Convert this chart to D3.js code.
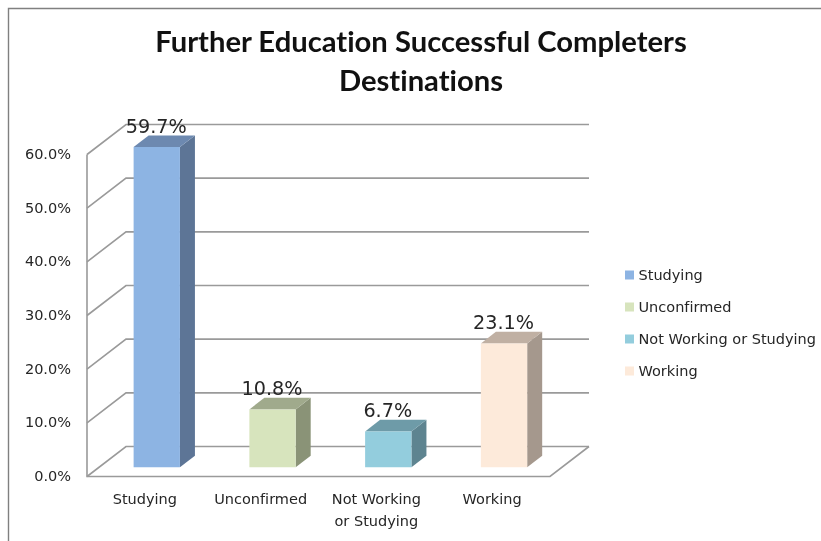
<!DOCTYPE html>
<html>
<head>
<meta charset="utf-8">
<script src="https://cdn.jsdelivr.net/npm/d3@7"></script>
<style>
  html, body { margin: 0; padding: 0; background: #fff; }
  svg { display: block; filter: blur(0.4px); }
  text { fill: #262626; font-variant-ligatures: none; }
</style>
</head>
<body>
<svg width="821" height="541"></svg>
<script>
let titleLines = ['Further Education Successful Completers', 'Destinations']
let categories = ['Studying', 'Unconfirmed', 'Not Working or Studying', 'Working']
let axisLabels = [['Studying'], ['Unconfirmed'], ['Not Working', 'or Studying'], ['Working']]
let values = [59.7, 10.8, 6.7, 23.1]
let yTicks = [0, 10, 20, 30, 40, 50, 60]
let frontColors = ['#8db4e3', '#d7e4bd', '#93cddd', '#fdeada']
let sideColors = ['#5d7596', '#8a9377', '#5e8490', '#a5988d']
let topColors = ['#6d89b0', '#a0aa8c', '#6e9ba8', '#c0b0a3']

let svg = d3.select('svg')

// the floor is sheared: depth 0 is the front edge, depth 1 the back wall
let wallDx = 39
let wallDy = -30
let barNear = 0.305
let barFar = 0.69

let x = d3.scaleBand().domain(categories).range([87, 550]).paddingInner(0.6).paddingOuter(0.3)
let y = d3.scaleLinear().domain([0, 60]).range([476.5, 154.5])

function pt(xv, yv, depth) {
  return [xv + depth * wallDx, yv + depth * wallDy]
}
function poly(points) {
  return d3.line()(points) + 'Z'
}

// frame
svg.append('path')
  .attr('d', 'M8.5,541V8.5H821')
  .attr('fill', 'none')
  .attr('stroke', '#808080')
  .attr('stroke-width', 1.4)

let gridColor = '#9a9a9a'
let left = x.range()[0]
let right = x.range()[1]

// back wall gridlines and side wall diagonals
yTicks.forEach(t => {
  let a = pt(left, y(t), 0)
  let b = pt(left, y(t), 1)
  let c = pt(right, y(t), 1)
  svg.append('path')
    .attr('d', d3.line()([a, b, c]))
    .attr('fill', 'none')
    .attr('stroke', gridColor)
    .attr('stroke-width', 1.6)
})

// floor front and right edge, plus left axis
svg.append('path')
  .attr('d', d3.line()([pt(left, y(60), 0), pt(left, y(0), 0), pt(right, y(0), 0), pt(right, y(0), 1)]))
  .attr('fill', 'none')
  .attr('stroke', gridColor)
  .attr('stroke-width', 1.6)

// bars
categories.forEach((c, i) => {
  let x0 = x(c)
  let x1 = x0 + x.bandwidth()
  let base = y(0)
  let topY = y(values[i])

  svg.append('path')
    .attr('d', poly([pt(x1, base, barNear), pt(x1, base, barFar), pt(x1, topY, barFar), pt(x1, topY, barNear)]))
    .attr('fill', sideColors[i])
  svg.append('path')
    .attr('d', poly([pt(x0, topY, barNear), pt(x1, topY, barNear), pt(x1, topY, barFar), pt(x0, topY, barFar)]))
    .attr('fill', topColors[i])
  svg.append('path')
    .attr('d', poly([pt(x0, base, barNear), pt(x1, base, barNear), pt(x1, topY, barNear), pt(x0, topY, barNear)]))
    .attr('fill', frontColors[i])

  // value label
  svg.append('text')
    .attr('x', pt(x0 + x.bandwidth() / 2, topY, barNear)[0] - 0.5)
    .attr('y', pt(x0, topY, barNear)[1] - 14)
    .attr('text-anchor', 'middle')
    .attr('font-family', 'DejaVu Sans')
    .attr('font-size', 19.2)
    .text(values[i].toFixed(1) + '%')

  // category label
  svg.append('text')
    .selectAll('tspan')
    .data(axisLabels[i])
    .join('tspan')
    .attr('x', x0 + x.bandwidth() / 2)
    .attr('y', (d, j) => 503.5 + j * 22)
    .attr('text-anchor', 'middle')
    .attr('font-family', 'DejaVu Sans')
    .attr('font-size', 14.5)
    .text(d => d)
})

// y tick labels
svg.selectAll('.tick-label')
  .data(yTicks)
  .join('text')
  .attr('class', 'tick-label')
  .attr('x', 71)
  .attr('y', d => y(d) + 4.5)
  .attr('text-anchor', 'end')
  .attr('font-family', 'DejaVu Sans')
  .attr('font-size', 14.5)
  .text(d => d.toFixed(1) + '%')

// title
svg.append('text')
  .selectAll('tspan')
  .data(titleLines)
  .join('tspan')
  .attr('x', 421)
  .attr('y', (d, i) => 51.5 + i * 39)
  .attr('text-anchor', 'middle')
  .attr('font-family', 'Lato')
  .attr('font-weight', 700)
  .attr('font-size', 29.2)
  .attr('fill', '#111')
  .text(d => d)

// legend
let legendY = d3.scalePoint().domain(categories).range([275, 371])
categories.forEach((c, i) => {
  svg.append('rect')
    .attr('x', 625)
    .attr('y', legendY(c) - 4.5)
    .attr('width', 9)
    .attr('height', 9)
    .attr('fill', frontColors[i])
  svg.append('text')
    .attr('x', 638.5)
    .attr('y', legendY(c) + 5)
    .attr('font-family', 'DejaVu Sans')
    .attr('font-size', 14.5)
    .text(c)
})
</script>
</body>
</html>
